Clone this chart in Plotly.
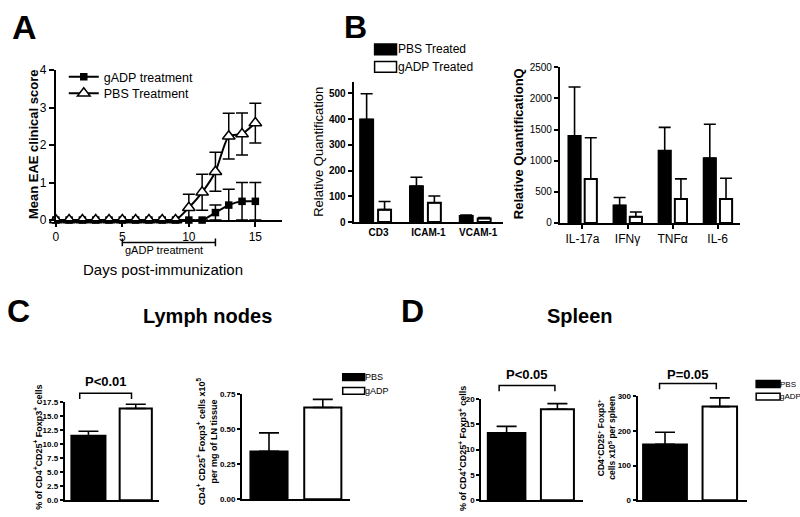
import plotly.graph_objects as go

W, H = 800, 517
FONT = "Liberation Sans, Arial, sans-serif"

# ---------------- data ----------------
# Panel A: mean EAE clinical score by day
days = [0, 1, 2, 3, 4, 5, 6, 7, 8, 9, 10, 11, 12, 13, 14, 15]
gadp_score = [0, 0, 0, 0, 0, 0, 0, 0, 0, 0, 0, 0, 0.2, 0.4, 0.5, 0.5]
gadp_err = [0, 0, 0, 0, 0, 0, 0, 0, 0, 0, 0, 0, 0.2, 0.42, 0.5, 0.5]
pbs_score = [0, 0, 0, 0, 0, 0, 0, 0, 0, 0, 0.33, 0.74, 1.29, 2.24, 2.3, 2.59]
pbs_err = [0, 0, 0, 0, 0, 0, 0, 0, 0, 0, 0.36, 0.48, 0.52, 0.61, 0.56, 0.53]
treat_start, treat_end = 5, 12

# Panel B (left): adhesion / T-cell markers
genes_b1 = ["CD3", "ICAM-1", "VCAM-1"]
pbs_b1 = [399, 139, 23]
pbs_b1_err = [100, 35, 4]
gadp_b1 = [48, 75, 14]
gadp_b1_err = [32, 26, 3]

# Panel B (right): cytokines
genes_b2 = ["IL-17a", "IFNγ", "TNFα", "IL-6"]
pbs_b2 = [1395, 280, 1160, 1040]
pbs_b2_err = [790, 130, 375, 545]
gadp_b2 = [705, 100, 385, 385]
gadp_b2_err = [665, 77, 323, 334]

groups = ["PBS", "gADP"]
# Panel C: lymph nodes
ln_pct = [11.5, 16.35]
ln_pct_err = [0.8, 0.75]
ln_cnt = [0.342, 0.655]
ln_cnt_err = [0.132, 0.058]
# Panel D: spleen
sp_pct = [13.3, 18.0]
sp_pct_err = [1.3, 1.1]
sp_cnt = [161, 270]
sp_cnt_err = [35, 25]


def px(x):
    return x / W


def py(y):
    return 1 - y / H


fig = go.Figure()

axis_common = dict(showline=True, linecolor="black", linewidth=2, showgrid=False,
                   zeroline=False, ticks="outside", tickcolor="black", tickwidth=1.5,
                   ticklen=4, fixedrange=True)

# ---------------- Panel A ----------------
fig.add_trace(go.Scatter(
    x=days, y=gadp_score, name="gADP treatment", mode="lines+markers",
    line=dict(color="black", width=2, shape="spline", smoothing=0.6),
    marker=dict(symbol="square", size=7.5, color="black"),
    error_y=dict(type="data", array=gadp_err, color="black", thickness=1.5, width=6),
    cliponaxis=False, xaxis="x", yaxis="y", legend="legend"))
fig.add_trace(go.Scatter(
    x=days, y=pbs_score, name="PBS Treatment", mode="lines+markers",
    line=dict(color="black", width=2, shape="spline", smoothing=0.6),
    marker=dict(symbol="triangle-up", size=11, color="white",
                line=dict(color="black", width=1.5)),
    error_y=dict(type="data", array=pbs_err, color="black", thickness=1.5, width=6),
    cliponaxis=False, xaxis="x", yaxis="y", legend="legend2"))


def bar(x, y, err, fill, axn, width, offset=None):
    kw = dict(x=x, y=y, width=width,
              marker=dict(color=fill, line=dict(color="black", width=2)),
              error_y=dict(type="data", symmetric=False, array=err,
                           arrayminus=[0] * len(err), color="black",
                           thickness=1.6, width=6 if axn in (2, 3) else 10),
              xaxis="x%d" % axn, yaxis="y%d" % axn, showlegend=False)
    if offset is not None:
        kw["offset"] = offset
    return go.Bar(**kw)


# ---------------- Panel B ----------------
fig.add_trace(bar(genes_b1, pbs_b1, pbs_b1_err, "black", 2, 0.26, -0.37))
fig.add_trace(bar(genes_b1, gadp_b1, gadp_b1_err, "white", 2, 0.26, -0.01))
fig.add_trace(bar(genes_b2, pbs_b2, pbs_b2_err, "black", 3, 0.27, -0.31))
fig.add_trace(bar(genes_b2, gadp_b2, gadp_b2_err, "white", 3, 0.27, 0.05))

# ---------------- Panels C, D ----------------
for axn, vals, errs, wids in [(4, ln_pct, ln_pct_err, (0.72, 0.68)),
                              (5, ln_cnt, ln_cnt_err, (0.69, 0.69)),
                              (6, sp_pct, sp_pct_err, (0.74, 0.65)),
                              (7, sp_cnt, sp_cnt_err, (0.8, 0.63))]:
    fig.add_trace(bar([groups[0]], [vals[0]], [errs[0]], "black", axn, wids[0]))
    fig.add_trace(bar([groups[1]], [vals[1]], [errs[1]], "white", axn, wids[1]))

tick_a = dict(family=FONT, size=12, color="black")
tick_b = dict(family=FONT, size=10, color="black", weight="bold")
tick_cd = dict(family=FONT, size=8, color="black", weight="bold")

layout_axes = dict(
    xaxis=dict(axis_common, domain=[px(53), px(280)], range=[0, 17], tickvals=[0, 5, 10, 15],
               tickfont=tick_a, anchor="y", ticklen=5),
    yaxis=dict(axis_common, domain=[py(219), py(65)], range=[0, 4], dtick=1,
               tickfont=tick_a, anchor="x", ticklen=5),
    xaxis2=dict(axis_common, domain=[px(352), px(502)], range=[-0.5, 2.5], type="category",
                tickfont=tick_b, anchor="y2", ticks=""),
    yaxis2=dict(axis_common, domain=[py(221), py(77)], range=[0, 545],
                tickvals=[0, 100, 200, 300, 400, 500], tickfont=tick_b, anchor="x2"),
    xaxis3=dict(axis_common, domain=[px(559), px(740)], range=[-0.5, 3.5], type="category",
                tickfont=dict(family=FONT, size=12, color="black"), anchor="y3", ticklen=4),
    yaxis3=dict(axis_common, domain=[py(222), py(62)], range=[0, 2500],
                tickvals=[0, 500, 1000, 1500, 2000, 2500],
                tickfont=dict(family=FONT, size=10, color="black"), anchor="x3"),
    xaxis4=dict(axis_common, domain=[px(62), px(157)], range=[-0.5, 1.5], type="category",
                showticklabels=False, ticks="", anchor="y4"),
    yaxis4=dict(axis_common, domain=[py(507), py(406)], range=[0, 17.5],
                tickvals=[0, 2.5, 5, 7.5, 10, 12.5, 15, 17.5], tickformat=".1f",
                tickfont=tick_cd, anchor="x4", ticklen=3),
    xaxis5=dict(axis_common, domain=[px(240), px(348)], range=[-0.5, 1.5], type="category",
                showticklabels=False, ticks="", anchor="y5"),
    yaxis5=dict(axis_common, domain=[py(506), py(398)], range=[0, 0.75],
                tickvals=[0, 0.25, 0.5, 0.75], tickformat=".2f",
                tickfont=tick_cd, anchor="x5", ticklen=3),
    xaxis6=dict(axis_common, domain=[px(480), px(582)], range=[-0.5, 1.5], type="category",
                showticklabels=False, ticks="", anchor="y6"),
    yaxis6=dict(axis_common, domain=[py(507), py(403)], range=[0, 20],
                tickvals=[0, 5, 10, 15, 20], tickfont=tick_cd, anchor="x6", ticklen=3),
    xaxis7=dict(axis_common, domain=[px(637), px(747)], range=[-0.5, 1.5], type="category",
                showticklabels=False, ticks="", anchor="y7"),
    yaxis7=dict(axis_common, domain=[py(507), py(400)], range=[0, 300],
                tickvals=[0, 100, 200, 300], tickfont=tick_cd, anchor="x7", ticklen=3),
)

annotations = []
shapes = []


def text(x, y, s, size, bold=False, angle=0, xanchor="center", align="center"):
    f = dict(family=FONT, size=size, color="black")
    if bold:
        f["weight"] = "bold"
    annotations.append(dict(x=px(x), y=py(y), xref="paper", yref="paper", text=s,
                            showarrow=False, font=f, textangle=angle,
                            xanchor=xanchor, yanchor="middle", align=align))


# panel letters
text(22, 21, "A", 34, True)
text(354, 21, "B", 32, True)
text(16, 312, "C", 32, True)
text(411, 312, "D", 32, True)
text(205, 318, "Lymph nodes", 20, True)
text(579, 318, "Spleen", 20, True)

# axis titles
text(30, 141, "Mean EAE clinical score", 13, True, -90)
text(161, 270, "Days post-immunization", 15)
text(317, 149, "Relative Quantification", 13, False, -90)
text(517, 141, "Relative QuantificationQ", 13, True, -90)
text(35, 452, "% of CD4<sup>+</sup>CD25<sup>+</sup> Foxp3<sup>+</sup> cells", 9, True, -90)
text(205, 446, "CD4<sup>+</sup> CD25<sup>+</sup> Foxp3<sup>+</sup> cells x10<sup>5</sup><br>per mg of LN tissue",
     9, True, -90)
text(461, 454, "% of CD4<sup>+</sup>CD25<sup>+</sup> Foxp3<sup>+</sup> cells", 9, True, -90)
text(606, 443, "CD4<sup>+</sup>CD25<sup>+</sup> Foxp3<sup>+</sup><br>cells x10<sup>5</sup> per spleen",
     8.5, True, -90)

# treatment bracket (panel A), positioned on the day axis
text(162, 250, "gADP treatment", 11)
shapes.append(dict(type="line", xref="x", yref="paper", x0=treat_start, x1=treat_end,
                   y0=py(242), y1=py(242), line=dict(color="black", width=1.5)))
for d in (treat_start, treat_end):
    shapes.append(dict(type="line", xref="x", yref="paper", x0=d, x1=d,
                       y0=py(238), y1=py(246), line=dict(color="black", width=1.5)))

# significance brackets
for (x0, x1, yb, label, ty) in [(77, 129, 397, "P<0.01", 385),
                                 (498, 554, 389, "P<0.05", 378),
                                 (659, 716, 387, "P=0.05", 378)]:
    shapes.append(dict(type="path", xref="paper", yref="paper",
                       path="M %f %f L %f %f L %f %f L %f %f" % (
                           px(x0), py(yb + 6), px(x0), py(yb), px(x1), py(yb), px(x1), py(yb + 6)),
                       line=dict(color="black", width=1.5)))
    text((x0 + x1) / 2, ty, label, 13, True)


# legend boxes for bars
def legend_box(x0, y0, w, h, fill, label, size, tx):
    shapes.append(dict(type="rect", xref="paper", yref="paper", x0=px(x0), x1=px(x0 + w),
                       y0=py(y0 + h), y1=py(y0), fillcolor=fill,
                       line=dict(color="black", width=1.5)))
    text(tx, y0 + h / 2, label, size, False, 0, "left")


legend_box(373, 38, 22, 11, "black", "PBS Treated", 12, 394)
legend_box(373, 56, 22, 11, "white", "gADP Treated", 12, 394)
legend_box(341, 377, 22, 7, "black", "PBS", 9, 361)
legend_box(341, 391, 22, 7, "white", "gADP", 9, 361)
legend_box(756, 384, 24, 7, "black", "PBS", 8, 778)
legend_box(756, 397, 24, 7, "white", "gADP", 8, 778)

leg_common = dict(xanchor="left", yanchor="middle", bgcolor="rgba(0,0,0,0)",
                  font=dict(family=FONT, size=12.5, color="black"), itemwidth=30)

fig.update_layout(
    width=W, height=H, margin=dict(l=0, r=0, t=0, b=0),
    paper_bgcolor="white", plot_bgcolor="white", barmode="overlay",
    font=dict(family=FONT, color="black"),
    showlegend=True,
    legend=dict(leg_common, x=px(61), y=py(72)),
    legend2=dict(leg_common, x=px(61), y=py(89)),
    annotations=annotations, shapes=shapes,
    **layout_axes)

fig.write_html("out.html", config={"displayModeBar": False},
               post_script="document.body.style.margin='0px';")
